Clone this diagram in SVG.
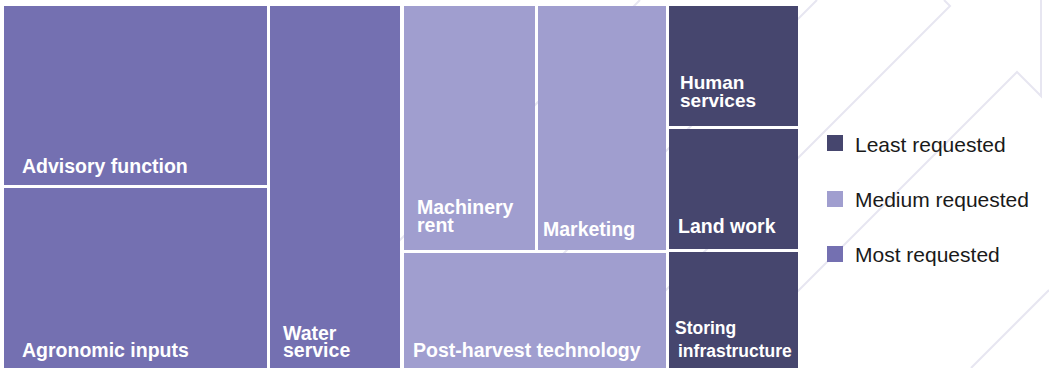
<svg xmlns="http://www.w3.org/2000/svg" width="1049" height="368" viewBox="0 0 1049 368">
<style>
.bg{fill:none;stroke:#e7e6f1;stroke-width:2}
.most{fill:#7470b1}
.med{fill:#a09ecf}
.least{fill:#46466e}
.lbl{font-family:"Liberation Sans",Arial,sans-serif;font-weight:700;font-size:19.5px;fill:#ffffff}
.sm{font-size:17.5px}
.leg{font-family:"Liberation Sans",Arial,sans-serif;font-size:21px;fill:#1a1a1a}
</style>
<rect width="1049" height="368" fill="#ffffff"/>
<g id="background">
<path class="bg" d="M944,0 L950,6 L650,306"/>
<path class="bg" d="M817,0 L450,367"/>
<path class="bg" d="M1041,0 L1041,96 L1017,72 L721,368"/>
<path class="bg" d="M1049,290 L971,368"/>
<path class="bg" d="M640,0 L270,370"/>
</g>
<g id="connectors"></g>
<g id="advisory">
<rect class="most" x="4" y="6" width="263" height="179"/>
<text class="lbl" x="22" y="173">Advisory function</text>
</g>
<g id="agronomic">
<rect class="most" x="4" y="188" width="263" height="180"/>
<text class="lbl" x="22" y="357">Agronomic inputs</text>
</g>
<g id="water">
<rect class="most" x="270" y="6" width="130" height="362"/>
<text class="lbl" x="283" y="340">Water</text>
<text class="lbl" x="283" y="357">service</text>
</g>
<g id="machinery">
<rect class="med" x="404" y="6" width="131" height="244"/>
<text class="lbl" x="417" y="214">Machinery</text>
<text class="lbl" x="417" y="232">rent</text>
</g>
<g id="marketing">
<rect class="med" x="538" y="6" width="128" height="244"/>
<text class="lbl" x="543" y="236">Marketing</text>
</g>
<g id="postharvest">
<rect class="med" x="404" y="253" width="262" height="115"/>
<text class="lbl" x="413" y="357">Post-harvest technology</text>
</g>
<g id="human">
<rect class="least" x="669" y="6" width="129" height="120"/>
<text class="lbl" x="680" y="89" style="font-size:19px">Human</text>
<text class="lbl" x="680" y="107" style="font-size:19px">services</text>
</g>
<g id="landwork">
<rect class="least" x="669" y="129" width="129" height="120"/>
<text class="lbl" x="678" y="233">Land work</text>
</g>
<g id="storing">
<rect class="least" x="669" y="252" width="129" height="116"/>
<text class="lbl sm" x="675" y="334">Storing</text>
<text class="lbl sm" x="678" y="357">infrastructure</text>
</g>
<g id="legend">
<rect class="least" x="827" y="135" width="16" height="16"/>
<text class="leg" x="855" y="152">Least requested</text>
<rect class="med" x="827" y="191" width="16" height="16"/>
<text class="leg" x="855" y="207">Medium requested</text>
<rect class="most" x="827" y="246" width="16" height="16"/>
<text class="leg" x="855" y="262">Most requested</text>
</g>
</svg>
